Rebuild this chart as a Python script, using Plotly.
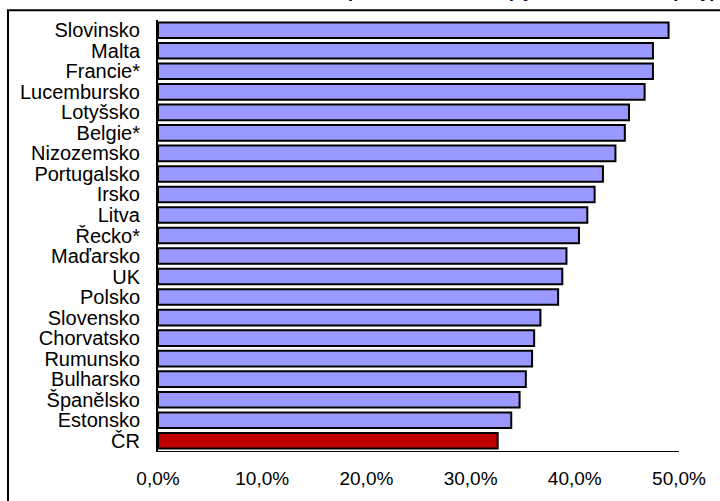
import plotly.graph_objects as go

countries = ["Slovinsko", "Malta", "Francie*", "Lucembursko", "Lotyšsko", "Belgie*",
             "Nizozemsko", "Portugalsko", "Irsko", "Litva", "Řecko*", "Maďarsko", "UK",
             "Polsko", "Slovensko", "Chorvatsko", "Rumunsko", "Bulharsko", "Španělsko",
             "Estonsko", "ČR"]
values = [0.490, 0.475, 0.475, 0.467, 0.452, 0.448, 0.439, 0.427, 0.419, 0.412, 0.404,
          0.392, 0.388, 0.384, 0.367, 0.361, 0.359, 0.353, 0.347, 0.339, 0.326]
tick_vals = [0.0, 0.1, 0.2, 0.3, 0.4, 0.5]
tick_text = ["0,0%", "10,0%", "20,0%", "30,0%", "40,0%", "50,0%"]
title_text = "Podíl nákladů na práci v zemích EU (vybrané země, skupiny)"

colors = ["#C00000" if c == "ČR" else "#9999FF" for c in countries]

fig = go.Figure()
fig.add_trace(go.Bar(
    x=values, y=countries, orientation="h",
    marker=dict(color=colors, line=dict(color="black", width=2)),
    hoverinfo="x+y",
))

W, H = 720, 501
L, R, T, B = 158, 41, 20, 39
pw, ph = W - L - R, H - T - B

def px_x(p):
    return (p - L) / pw

def px_y(p):
    return (H - B - p) / ph

fig.update_layout(
    width=W, height=H,
    margin=dict(l=L, r=R, t=T, b=B, pad=0),
    paper_bgcolor="white", plot_bgcolor="white",
    bargap=0.24,
    showlegend=False,
    font=dict(family="Liberation Sans, Arial, sans-serif", color="black"),
    xaxis=dict(range=[0, 0.5], tickmode="array", tickvals=tick_vals, ticktext=tick_text,
               showgrid=False, zeroline=False, showline=True, linecolor="black",
               linewidth=1, ticks="", tickfont=dict(size=19), ticklabelstandoff=10,
               fixedrange=True),
    yaxis=dict(autorange="reversed", tickmode="array", tickvals=countries,
               ticktext=countries, showgrid=False, zeroline=False, showline=True,
               linecolor="black", linewidth=2, ticks="", tickfont=dict(size=20),
               ticklabelstandoff=12, fixedrange=True),
    shapes=[dict(type="rect", xref="paper", yref="paper",
                 x0=px_x(8), x1=px_x(730), y0=px_y(520), y1=px_y(10),
                 line=dict(color="black", width=2), fillcolor="rgba(0,0,0,0)", layer="below")],
    annotations=[dict(text="<b>" + title_text + "</b>", xref="paper", yref="paper",
                      x=px_x(718), y=px_y(3), xanchor="right", yanchor="bottom",
                      showarrow=False, font=dict(size=18, color="black"))],
)

fig.write_html("out.html")
